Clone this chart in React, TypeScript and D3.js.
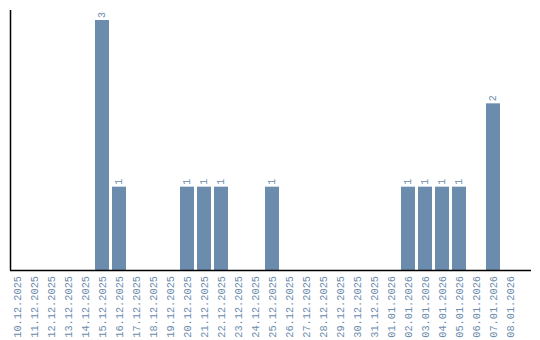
import React from "react";
import * as d3 from "d3";

const dates = [
  "10.12.2025","11.12.2025","12.12.2025","13.12.2025","14.12.2025","15.12.2025",
  "16.12.2025","17.12.2025","18.12.2025","19.12.2025","20.12.2025","21.12.2025",
  "22.12.2025","23.12.2025","24.12.2025","25.12.2025","26.12.2025","27.12.2025",
  "28.12.2025","29.12.2025","30.12.2025","31.12.2025","01.01.2026","02.01.2026",
  "03.01.2026","04.01.2026","05.01.2026","06.01.2026","07.01.2026","08.01.2026",
];
const counts = [0,0,0,0,0,3,1,0,0,0,1,1,1,0,0,1,0,0,0,0,0,0,0,1,1,1,1,0,2,0];

const W = 540, H = 340;
const left = 10, top = 20, base = 270;
const barColor = "#6b8cad";
const textColor = "#6b8cad";
const font = "Liberation Mono, DejaVu Sans Mono, monospace";

export default function App() {
  const x = d3.scaleBand<string>().domain(dates).range([left, left + dates.length * 17 - 3]).paddingInner(3 / 17).paddingOuter(0);
  const y = d3.scaleLinear().domain([0, 3]).range([base, top]);
  return (
    <svg width={W} height={H} style={{ position: "absolute", left: 0, top: 0 }}>
      {dates.map((d, i) =>
        counts[i] > 0 ? (
          <g key={d}>
            <rect x={x(d)!} y={y(counts[i])} width={x.bandwidth()} height={base - y(counts[i])} fill={barColor} />
            <text
              transform={`translate(${x(d)! + x.bandwidth() / 2 + 3},${y(counts[i]) - 2}) rotate(-90)`}
              fontFamily={font}
              fontSize={10}
              fill={textColor}
            >
              {counts[i]}
            </text>
          </g>
        ) : null
      )}
      <line x1={left + 0.5} x2={left + 0.5} y1={10} y2={base} stroke="#000" strokeWidth={1.5} />
      <line x1={left} x2={531} y1={base + 0.5} y2={base + 0.5} stroke="#000" strokeWidth={1.5} />
      {dates.map((d) => (
        <text
          key={"l" + d}
          transform={`translate(${x(d)! + x.bandwidth() / 2 + 3.5},${base + 6}) rotate(-90)`}
          textAnchor="end"
          fontFamily={font}
          fontSize={10.3}
          fill={textColor}
        >
          {d}
        </text>
      ))}
    </svg>
  );
}
